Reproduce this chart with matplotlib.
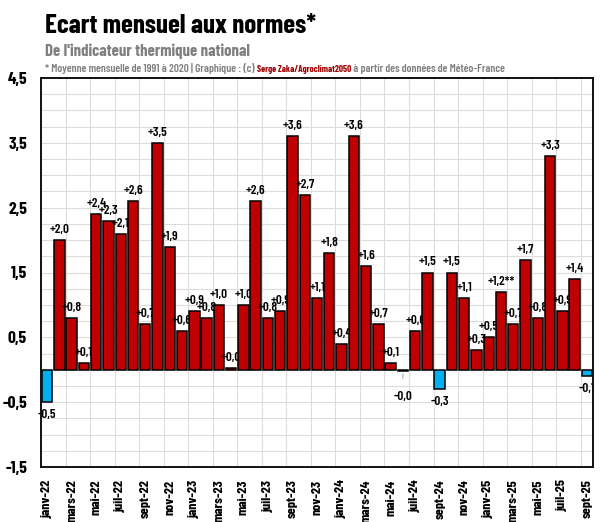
import matplotlib
matplotlib.use('Agg')
import matplotlib.pyplot as plt
import numpy as np

# ---- data ----
month_names = ['janv', 'févr', 'mars', 'avr', 'mai', 'juin',
               'juil', 'août', 'sept', 'oct', 'nov', 'déc']
years = ['22', '23', '24', '25']
values = [-0.5, 2.0, 0.8, 0.1, 2.4, 2.3, 2.1, 2.6, 0.7, 3.5, 1.9, 0.6,
          0.9, 0.8, 1.0, 0.02, 1.0, 2.6, 0.8, 0.9, 3.6, 2.7, 1.1, 1.8,
          0.4, 3.6, 1.6, 0.7, 0.1, -0.02, 0.6, 1.5, -0.3, 1.5, 1.1, 0.3,
          0.5, 1.2, 0.7, 1.7, 0.8, 3.3, 0.9, 1.4, -0.1]
label_suffix = {37: '**'}
months = [f"{m}-{y}" for y in years for m in month_names][:len(values)]
yticks = [-1.5, -0.5, 0.5, 1.5, 2.5, 3.5, 4.5]

FONT = 'Barlow Condensed'
RED = '#C00000'
BLUE = '#00B0F0'

fig = plt.figure(figsize=(6.0, 5.22), dpi=100)
ax = fig.add_axes([41/600, 55/522, 552/600, 389/522])

n = len(values)
x = np.arange(n)
for i, v in enumerate(values):
    z = 3 + 2 * i
    ax.bar(i, v, width=0.85, color=RED if v >= 0 else BLUE,
           edgecolor='black', linewidth=1.1, zorder=z)
    sign = '+' if v >= 0 else '-'
    txt = sign + f"{abs(v):.1f}".replace('.', ',') + label_suffix.get(i, '')
    kw = dict(ha='center', va='center', fontsize=9.5, fontweight='semibold',
              family=FONT, color='black',
              textcoords='offset pixels', zorder=z + 1, annotation_clip=False)
    if v >= 0:
        t = ax.annotate(txt, (i, v), xytext=(0, 10), **kw)
    elif abs(v) < 0.05:
        t = ax.annotate(txt, (i, v), xytext=(0, -26),
                        arrowprops=dict(arrowstyle='-', color='#a0a0a0', lw=0.7,
                                        shrinkA=7, shrinkB=2), **kw)
    else:
        t = ax.annotate(txt, (i, v), xytext=(0, -13), **kw)
    t.set_clip_on(True)

ax.set_xlim(-0.5, n - 0.5)
ax.set_ylim(-1.5, 4.5)

# grid
for gx in np.arange(1.5, n - 0.5, 2):
    ax.axvline(gx, color='#dcdcdc', lw=0.8, zorder=0)
for gy in np.arange(-1.25, 4.5, 0.25):
    ax.axhline(gy, color='#dcdcdc', lw=0.8, zorder=0)

ax.set_yticks(yticks)
ax.set_yticklabels([f"{t:.1f}".replace('.', ',') for t in yticks],
                   fontsize=12.5, fontweight='bold', family=FONT)
ax.set_xticks(x[::2])
ax.set_xticklabels(months[::2], rotation=90, fontsize=10, fontweight='bold',
                   family=FONT)
ax.tick_params(axis='both', length=0)
ax.tick_params(axis='x', pad=9)
ax.tick_params(axis='y', pad=10)
for s in ax.spines.values():
    s.set_color('#111111')
    s.set_linewidth(1.4)
    s.set_zorder(200)

# titles
fig.text(45/600, 1 - 33/522, 'Ecart mensuel aux normes*', fontsize=19.5, fontweight='bold',
         family=FONT, color='black', va='baseline')
fig.text(45/600, 1 - 56/522, "De l'indicateur thermique national", fontsize=12, fontweight='bold',
         family=FONT, color='#808080', va='baseline')
p1 = "* Moyenne mensuelle de 1991 à 2020 | Graphique : (c) "
p2 = "Serge Zaka/Agroclimat2050"
p3 = " à partir des données de Météo-France"
t1 = fig.text(45/600, 1 - 72/522, p1, fontsize=8.2, fontweight='semibold', family=FONT,
              color='#808080', va='baseline')
fig.canvas.draw()
r = fig.canvas.get_renderer()
bb = t1.get_window_extent(r)
t2 = fig.text(bb.x1 / 600, 1 - 72/522, p2, fontsize=6.7, fontweight='bold', family=FONT,
              color='#A00000', va='baseline')
bb2 = t2.get_window_extent(r)
fig.text(bb2.x1 / 600, 1 - 72/522, p3, fontsize=8.2, fontweight='semibold', family=FONT,
         color='#808080', va='baseline')

fig.savefig('out.png', dpi=100)
